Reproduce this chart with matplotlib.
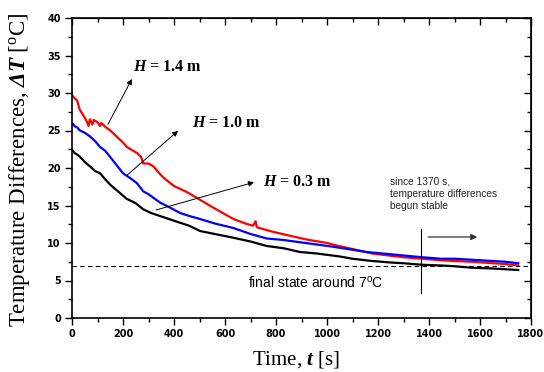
import numpy as np
import matplotlib
matplotlib.use('Agg')
import matplotlib.pyplot as plt

# mathtext fonts (Times-like serif for labels)
plt.rcParams['mathtext.fontset'] = 'custom'
plt.rcParams['mathtext.rm'] = 'Liberation Serif'
plt.rcParams['mathtext.it'] = 'Liberation Serif:italic'
plt.rcParams['mathtext.bf'] = 'Liberation Serif:bold'
plt.rcParams['mathtext.bfit'] = 'Liberation Serif:italic:bold'
plt.rcParams['mathtext.sf'] = 'Liberation Sans'

# data
t_red = [0, 10, 20, 30, 45, 58, 65, 70, 80, 85, 90, 100, 110, 115, 130, 150, 175, 200, 215, 235,
         255, 270, 280, 300, 320, 350, 370, 400, 450, 500, 560, 633, 680, 710, 720, 725, 776, 850,
         915, 1000, 1046, 1100, 1177, 1250, 1300, 1373, 1450, 1500, 1569, 1650, 1700, 1750]
T_red = [29.7, 29.3, 29.0, 27.8, 27.0, 26.2, 25.6, 26.5, 25.8, 26.4, 26.3, 26.1, 25.6, 26.0, 25.5,
         25.0, 24.2, 23.4, 22.8, 22.4, 22.0, 21.5, 20.6, 20.6, 20.2, 19.0, 18.4, 17.6, 16.8, 15.8,
         14.6, 13.2, 12.6, 12.3, 12.9, 12.1, 11.6, 11.0, 10.5, 10.0, 9.6, 9.2, 8.6, 8.3, 8.1, 7.9,
         7.7, 7.6, 7.5, 7.3, 7.2, 7.0]

t_blue = [0, 10, 20, 31, 50, 71, 90, 110, 130, 149, 170, 200, 230, 254, 279, 300, 345, 380, 424,
          460, 502, 560, 633, 700, 764, 830, 894, 960, 1024, 1100, 1155, 1250, 1373, 1450, 1503,
          1600, 1700, 1750]
T_blue = [26.0, 25.6, 25.4, 25.0, 24.7, 24.2, 23.6, 22.8, 22.3, 21.5, 20.6, 19.3, 18.6, 18.0, 16.9,
          16.5, 15.4, 14.8, 14.0, 13.6, 13.2, 12.6, 12.0, 11.2, 10.6, 10.4, 10.1, 9.8, 9.5, 9.1,
          8.8, 8.5, 8.1, 7.9, 7.9, 7.7, 7.5, 7.3]

t_black = [0, 10, 20, 31, 50, 71, 90, 110, 130, 149, 180, 214, 250, 279, 310, 345, 380, 424, 460,
           502, 560, 633, 700, 764, 830, 894, 960, 1051, 1100, 1177, 1250, 1300, 1373, 1450, 1500,
           1569, 1650, 1700, 1750]
T_black = [22.4, 22.0, 21.8, 21.5, 20.8, 20.2, 19.6, 19.3, 18.5, 17.8, 16.9, 15.9, 15.3, 14.5,
           14.0, 13.6, 13.2, 12.7, 12.3, 11.6, 11.2, 10.7, 10.2, 9.6, 9.3, 8.8, 8.6, 8.2, 7.9, 7.6,
           7.4, 7.3, 7.1, 7.0, 6.9, 6.7, 6.6, 6.5, 6.4]

fig = plt.figure(figsize=(5.44, 3.72), dpi=100)
ax = fig.add_axes([72/544, 54/372, 459/544, 300/372])

ax.plot(t_red, T_red, color='#ff0000', lw=1.6)
ax.plot(t_blue, T_blue, color='#0000ff', lw=1.6)
ax.plot(t_black, T_black, color='black', lw=1.6)

ax.axhline(7, color='black', lw=0.8, ls=(0, (4, 3)))
ax.plot([1370, 1370], [3.3, 11.9], color='black', lw=0.8)
ax.annotate('', xy=(1600, 10.8), xytext=(1386, 10.8),
            arrowprops=dict(arrowstyle='-|>', color='#333333', lw=0.9, mutation_scale=9))

# curve labels with arrows
arr = dict(arrowstyle='-|>', color='black', lw=0.7, mutation_scale=8)
ax.annotate('', xy=(240, 32.2), xytext=(136, 25.5), arrowprops=arr)
ax.annotate('', xy=(424, 25.2), xytext=(208, 18.8), arrowprops=arr)
ax.annotate('', xy=(724, 18.2), xytext=(319, 14.3), arrowprops=arr)
lab = dict(family='Liberation Serif', fontweight='bold', fontsize=11.5, ha='center', va='center')
ax.text(376, 33.5, r'$\mathbfit{H}$ = 1.4 m', **lab)
ax.text(604, 26.0, r'$\mathbfit{H}$ = 1.0 m', **lab)
ax.text(884, 18.1, r'$\mathbfit{H}$ = 0.3 m', **lab)

ax.text(1247, 18.9, 'since 1370 s,\ntemperature differences\nbegun stable',
        family='Liberation Sans', fontsize=7.3, ha='left', va='top', linespacing=1.3,
        color='#222222')
ax.text(690, 4.7, r'final state around 7$^{\mathsf{o}}$C', family='Liberation Sans',
        fontsize=10, ha='left', va='center')

ax.set_xlim(0, 1800)
ax.set_ylim(0, 40)
ax.set_xticks(np.arange(0, 1801, 200))
ax.set_yticks(np.arange(0, 41, 5))
ax.set_xticks(np.arange(100, 1800, 200), minor=True)
ax.set_yticks(np.arange(2.5, 40, 5), minor=True)
ax.tick_params(which='major', direction='out', length=5, width=1.0, labelsize=7, pad=3)
ax.tick_params(which='minor', direction='out', length=3, width=1.0)
for lb in ax.get_xticklabels() + ax.get_yticklabels():
    lb.set_fontweight('bold')
    lb.set_family('DejaVu Sans')
for s in ax.spines.values():
    s.set_linewidth(1.2)

top = ax.secondary_xaxis('top')
top.set_xticks(np.arange(0, 1801, 200))
top.set_xticks(np.arange(100, 1800, 200), minor=True)
top.tick_params(which='major', direction='in', length=5, width=1.0, labeltop=False)
top.tick_params(which='minor', direction='in', length=3, width=1.0)
right = ax.secondary_yaxis('right')
right.set_yticks(np.arange(0, 41, 5))
right.set_yticks(np.arange(2.5, 40, 5), minor=True)
right.tick_params(which='major', direction='in', length=5, width=1.0, labelright=False)
right.tick_params(which='minor', direction='in', length=3, width=1.0)

ax.set_xlabel(r'Time, $\mathbfit{t}$ [s]', family='Liberation Serif', fontsize=15)
ax.set_ylabel(r'Temperature Differences, $\mathbfit{\Delta T}$ [$^{\mathrm{o}}$C]',
              family='Liberation Serif', fontsize=16.5)
ax.xaxis.set_label_coords(0.488, -0.105)
ax.yaxis.set_label_coords(-0.087, 0.493)

fig.savefig('out.png', dpi=100)
